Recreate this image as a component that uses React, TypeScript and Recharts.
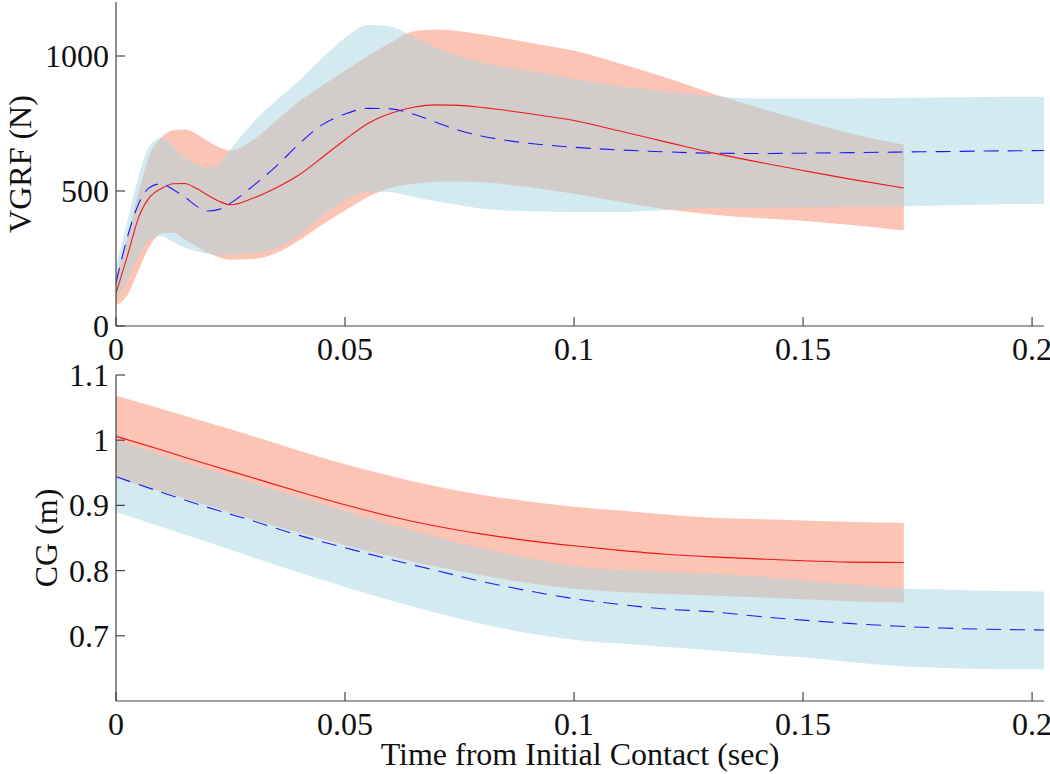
import React from 'react';
import { ComposedChart, Area, Line, XAxis, YAxis } from 'recharts';

const FONT = "'Liberation Serif', 'Times New Roman', Times, serif";
const AXIS = '#444';

// ---------- shared x axis ----------
const X_TICKS = [0, 0.05, 0.1, 0.15, 0.2];
const X_MAX = 0.2026;

// ---------- Top panel: VGRF (N) ----------
const VGRF_TICKS = [0, 500, 1000];
const VGRF_T_RED = [0, 0.0025, 0.005, 0.0075, 0.01, 0.0125, 0.015, 0.0175, 0.02, 0.0225, 0.025, 0.03, 0.035, 0.04, 0.045, 0.05, 0.055, 0.06, 0.065, 0.07, 0.075, 0.08, 0.09, 0.1, 0.11, 0.12, 0.13, 0.14, 0.15, 0.16, 0.172];
const VGRF_RED_MEAN = [122, 260, 405, 480, 510, 527, 528, 510, 485, 462, 449, 474, 512, 560, 624, 690, 750, 788, 810, 819, 817, 809, 787, 761, 722, 682, 642, 608, 576, 545, 511];
const VGRF_RED_HI = [190, 330, 500, 640, 700, 725, 728, 712, 685, 662, 650, 690, 760, 832, 890, 945, 1000, 1050, 1092, 1098, 1092, 1080, 1050, 1019, 972, 920, 862, 810, 761, 715, 672];
const VGRF_RED_LO = [77, 115, 210, 300, 343, 345, 320, 295, 272, 255, 245, 248, 270, 318, 375, 428, 478, 512, 527, 534, 535, 532, 515, 490, 460, 432, 413, 400, 390, 375, 354];

const VGRF_T_BLUE = [0, 0.0025, 0.005, 0.0075, 0.01, 0.0125, 0.015, 0.0175, 0.02, 0.0225, 0.025, 0.03, 0.035, 0.04, 0.045, 0.05, 0.055, 0.06, 0.065, 0.07, 0.075, 0.08, 0.09, 0.1, 0.11, 0.12, 0.13, 0.14, 0.15, 0.16, 0.17, 0.18, 0.19, 0.2026];
const VGRF_BLUE_MEAN = [160, 330, 455, 515, 527, 505, 478, 445, 426, 432, 455, 520, 592, 675, 745, 785, 806, 804, 784, 754, 724, 703, 677, 662, 652, 645, 640, 639, 640, 642, 644, 646, 648, 650];
const VGRF_BLUE_HI = [220, 390, 560, 670, 698, 665, 625, 598, 588, 600, 655, 755, 835, 910, 992, 1068, 1115, 1108, 1070, 1030, 998, 975, 946, 914, 888, 868, 852, 843, 843, 843, 844, 846, 848, 849];
const VGRF_BLUE_LO = [100, 170, 260, 320, 332, 310, 290, 277, 268, 262, 265, 270, 288, 338, 410, 465, 498, 495, 478, 462, 448, 434, 425, 422, 422, 430, 437, 438, 440, 442, 443, 446, 450, 453];

// ---------- Bottom panel: CG (m) ----------
const CG_TICKS = [0.7, 0.8, 0.9, 1, 1.1];
const CG_T_RED = [0, 0.01, 0.02, 0.03, 0.04, 0.05, 0.06, 0.07, 0.08, 0.09, 0.1, 0.11, 0.12, 0.13, 0.14, 0.15, 0.16, 0.172];
const CG_RED_MEAN = [1.006, 0.985, 0.963, 0.942, 0.921, 0.901, 0.883, 0.868, 0.856, 0.846, 0.838, 0.831, 0.825, 0.821, 0.818, 0.815, 0.813, 0.8124];
const CG_RED_HI = [1.068, 1.048, 1.027, 1.006, 0.984, 0.963, 0.945, 0.929, 0.916, 0.906, 0.898, 0.892, 0.886, 0.881, 0.879, 0.877, 0.875, 0.873];
const CG_RED_LO = [0.942, 0.921, 0.9, 0.878, 0.858, 0.839, 0.822, 0.806, 0.793, 0.781, 0.772, 0.767, 0.764, 0.762, 0.759, 0.756, 0.753, 0.751];

const CG_T_BLUE = [0, 0.01, 0.02, 0.03, 0.04, 0.05, 0.06, 0.07, 0.08, 0.09, 0.1, 0.11, 0.12, 0.13, 0.14, 0.15, 0.16, 0.17, 0.18, 0.19, 0.2026];
const CG_BLUE_MEAN = [0.944, 0.92, 0.897, 0.876, 0.854, 0.835, 0.817, 0.8, 0.783, 0.769, 0.757, 0.748, 0.741, 0.737, 0.73, 0.724, 0.719, 0.715, 0.712, 0.71, 0.709];
const CG_BLUE_HI = [1.0, 0.977, 0.955, 0.934, 0.912, 0.891, 0.87, 0.851, 0.834, 0.819, 0.807, 0.801, 0.798, 0.795, 0.791, 0.785, 0.779, 0.773, 0.771, 0.769, 0.768];
const CG_BLUE_LO = [0.89, 0.867, 0.844, 0.82, 0.797, 0.775, 0.754, 0.735, 0.718, 0.704, 0.694, 0.688, 0.683, 0.678, 0.672, 0.667, 0.66, 0.654, 0.651, 0.649, 0.6485];

// ---------- helpers ----------
const band = (t: number[], lo: number[], hi: number[]) => t.map((x, i) => ({ t: x, band: [lo[i], hi[i]] }));
const line = (t: number[], m: number[]) => t.map((x, i) => ({ t: x, v: m[i] }));

const RED_FILL = '#F98969';
const BLUE_FILL = '#A7D5E1';
const RED_LINE = '#f01818';
const BLUE_LINE = '#1a1aff';

const LeftTick = (p: any) => (
  <g>
    <line x1={p.x} y1={p.y} x2={p.x + 9} y2={p.y} stroke={AXIS} strokeWidth={1.2} />
    <text x={p.x - 7} y={p.y} dy={11} textAnchor="end" fontSize={32} fontFamily={FONT} fill="#111">
      {String(p.payload.value)}
    </text>
  </g>
);
const RightTick = (p: any) => (
  <line x1={p.x} y1={p.y} x2={p.x - 9} y2={p.y} stroke={AXIS} strokeWidth={1.2} />
);
const BottomTick = (p: any) => (
  <g>
    <line x1={p.x} y1={p.y} x2={p.x} y2={p.y - 9} stroke={AXIS} strokeWidth={1.2} />
    <text x={p.x} y={p.y + 34} textAnchor="middle" fontSize={32} fontFamily={FONT} fill="#111">
      {String(p.payload.value)}
    </text>
  </g>
);
const TopTick = (p: any) => (
  <line x1={p.x} y1={p.y} x2={p.x} y2={p.y + 9} stroke={AXIS} strokeWidth={1.2} />
);

const YTitle = (props: any) => {
  const vb = props.viewBox || {};
  const cy = (vb.y ?? 0) + (vb.height ?? 0) / 2;
  const bx = props.bx;
  return (
    <text x={bx} y={cy} transform={`rotate(-90, ${bx}, ${cy})`} textAnchor="middle" fontSize={32} fontFamily={FONT} fill="#111">
      {props.text}
    </text>
  );
};
const XTitle = (props: any) => {
  const vb = props.viewBox || {};
  const cx = (vb.x ?? 0) + (vb.width ?? 0) / 2;
  const y = (vb.y ?? 0) + 64;
  return (
    <text x={cx} y={y} textAnchor="middle" fontSize={32} fontFamily={FONT} fill="#111">
      {props.text}
    </text>
  );
};

type PanelProps = {
  width: number; height: number; margin: any; xHeight: number;
  yDomain: [number, number]; yTicks: number[];
  tRed: number[]; redMean: number[]; redLo: number[]; redHi: number[];
  tBlue: number[]; blueMean: number[]; blueLo: number[]; blueHi: number[];
  yTitle: string; yTitleX: number; xTitle?: string;
};

const Panel = (P: PanelProps) => (
  <ComposedChart width={P.width} height={P.height} margin={P.margin}>
    <XAxis
      xAxisId="b" dataKey="t" type="number" domain={[0, X_MAX]} allowDataOverflow ticks={X_TICKS}
      height={P.xHeight} tickSize={0} tickMargin={0} tickLine={false}
      axisLine={{ stroke: AXIS, strokeWidth: 1.2 }} tick={BottomTick} interval={0}
      label={P.xTitle ? <XTitle text={P.xTitle} /> : undefined}
    />
    <XAxis
      xAxisId="t" orientation="top" dataKey="t" type="number" domain={[0, X_MAX]} allowDataOverflow ticks={X_TICKS}
      height={0} tickSize={0} tickMargin={0} tickLine={false}
      axisLine={{ stroke: AXIS, strokeWidth: 1.2 }} tick={TopTick} interval={0}
    />
    <YAxis
      yAxisId="l" type="number" domain={P.yDomain} allowDataOverflow ticks={P.yTicks} width={116}
      tickSize={0} tickMargin={0} tickLine={false} interval={0}
      axisLine={{ stroke: AXIS, strokeWidth: 1.2 }} tick={LeftTick}
      label={<YTitle text={P.yTitle} bx={P.yTitleX} />}
    />
    <YAxis
      yAxisId="r" orientation="right" type="number" domain={P.yDomain} allowDataOverflow ticks={P.yTicks} width={0}
      tickSize={0} tickMargin={0} tickLine={false} interval={0}
      axisLine={{ stroke: AXIS, strokeWidth: 1.2 }} tick={RightTick}
    />
    <Area xAxisId="b" yAxisId="l" data={band(P.tRed, P.redLo, P.redHi)} dataKey="band" type="monotone"
      stroke="none" fill={RED_FILL} fillOpacity={0.5} isAnimationActive={false} dot={false} activeDot={false} />
    <Area xAxisId="b" yAxisId="l" data={band(P.tBlue, P.blueLo, P.blueHi)} dataKey="band" type="monotone"
      stroke="none" fill={BLUE_FILL} fillOpacity={0.5} isAnimationActive={false} dot={false} activeDot={false} />
    <Line xAxisId="b" yAxisId="l" data={line(P.tRed, P.redMean)} dataKey="v" type="monotone"
      stroke={RED_LINE} strokeWidth={1.1} dot={false} activeDot={false} isAnimationActive={false} />
    <Line xAxisId="b" yAxisId="l" data={line(P.tBlue, P.blueMean)} dataKey="v" type="monotone"
      stroke={BLUE_LINE} strokeWidth={1.1} strokeDasharray="15 9" dot={false} activeDot={false} isAnimationActive={false} />
  </ComposedChart>
);

export default function App() {
  return (
    <div style={{ position: 'absolute', left: 0, top: 0, width: 1050, height: 774, background: '#fff' }}>
      <style>{'.recharts-surface{overflow:visible}'}</style>
      <div style={{ position: 'absolute', left: 0, top: 0 }}>
        <Panel
          width={1050} height={370} margin={{ top: 2, right: 6, bottom: 0, left: 0 }} xHeight={44}
          yDomain={[0, 1200]} yTicks={VGRF_TICKS}
          tRed={VGRF_T_RED} redMean={VGRF_RED_MEAN} redLo={VGRF_RED_LO} redHi={VGRF_RED_HI}
          tBlue={VGRF_T_BLUE} blueMean={VGRF_BLUE_MEAN} blueLo={VGRF_BLUE_LO} blueHi={VGRF_BLUE_HI}
          yTitle="VGRF (N)" yTitleX={31}
        />
      </div>
      <div style={{ position: 'absolute', left: 0, top: 352 }}>
        <Panel
          width={1050} height={422} margin={{ top: 23, right: 6, bottom: 0, left: 0 }} xHeight={73}
          yDomain={[0.6, 1.1]} yTicks={CG_TICKS}
          tRed={CG_T_RED} redMean={CG_RED_MEAN} redLo={CG_RED_LO} redHi={CG_RED_HI}
          tBlue={CG_T_BLUE} blueMean={CG_BLUE_MEAN} blueLo={CG_BLUE_LO} blueHi={CG_BLUE_HI}
          yTitle="CG (m)" yTitleX={57} xTitle="Time from Initial Contact (sec)"
        />
      </div>
    </div>
  );
}
